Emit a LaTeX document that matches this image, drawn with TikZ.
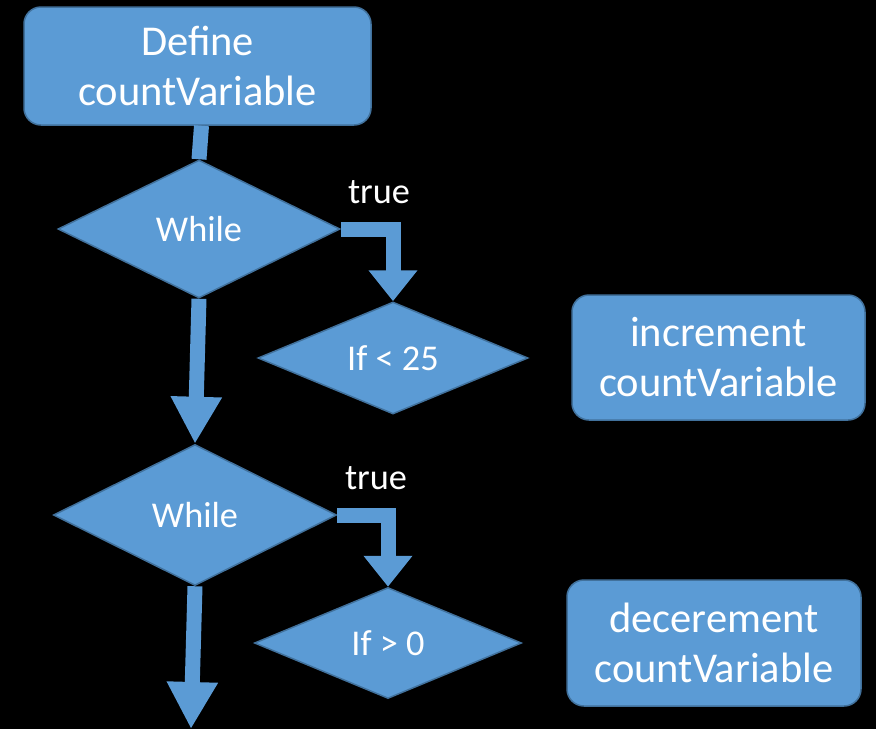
\documentclass[tikz,border=0pt]{standalone}
\usepackage{fontspec}
\setmainfont{Carlito}
\usetikzlibrary{shapes.geometric,arrows.meta}
\definecolor{officeblue}{HTML}{5B9BD5}
\definecolor{officeborder}{HTML}{41719C}
\tikzset{
  boxnode/.style={draw=officeborder, line width=1.5pt, fill=officeblue, rounded corners=17pt,
    text=white, align=center, inner sep=0pt, font=\fontsize{42.5}{50}\selectfont},
  decnode/.style={draw=officeborder, line width=1.5pt, fill=officeblue, diamond, aspect=2,
    text=white, inner sep=0pt, font=\fontsize{36.3}{43}\selectfont},
  lbl/.style={text=white, inner sep=0pt, anchor=base, font=\fontsize{36.3}{43}\selectfont},
  shaft/.style={draw=officeblue, line width=15pt, line cap=butt},
  bigarrow/.style={shaft, -{Triangle[width=48pt,length=47pt]}},
  smallarrow/.style={shaft, line join=miter, -{Triangle[width=47pt,length=31pt]}}
}
\begin{document}
\begin{tikzpicture}[x=1pt,y=-1pt]
\useasboundingbox (0,0) rectangle (876,729);
\fill[black] (0,0) rectangle (876,729);

\node[boxnode, minimum width=347pt, minimum height=118pt] (def) at (197.5,66) {Define\\countVariable};
\node[decnode, minimum width=282pt, minimum height=138pt] (w1) at (199,229) {While};
\node[decnode, minimum width=270pt, minimum height=112pt] (if1) at (393,358) {If < 25};
\node[boxnode, minimum width=293pt, minimum height=125pt] (inc) at (718.5,357.5) {increment\\countVariable};
\node[decnode, minimum width=283pt, minimum height=141pt] (w2) at (195,515) {While};
\node[decnode, minimum width=267pt, minimum height=111pt] (if2) at (388,643) {If > 0};
\node[boxnode, minimum width=294pt, minimum height=126pt] (dec) at (714,643) {decerement\\countVariable};

\node[lbl] (t1) at (379,203) {true};
\node[lbl] (t2) at (376,489) {true};

\coordinate (endpt) at (191,729);

\draw[shaft] ([xshift=4pt]def.south) -- (w1.north);
\draw[bigarrow] (w1.south) -- (w2.north);
\draw[bigarrow] (w2.south) -- (endpt);
\draw[smallarrow] (w1.east) -| (if1.north);
\draw[smallarrow] (w2.east) -| (if2.north);
\end{tikzpicture}
\end{document}
